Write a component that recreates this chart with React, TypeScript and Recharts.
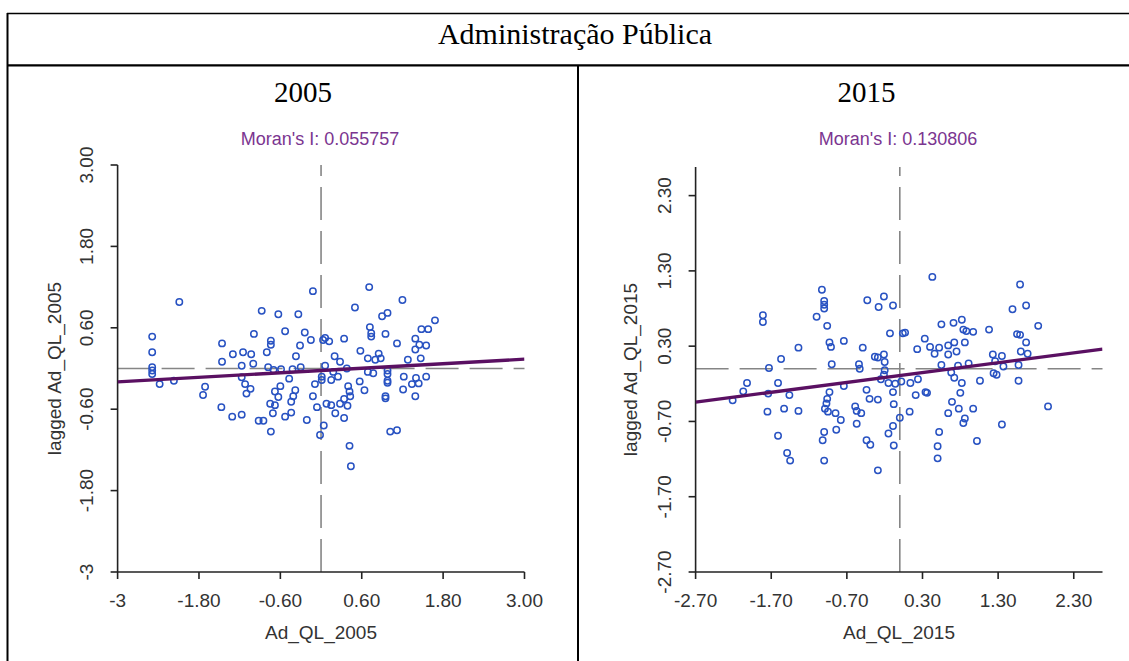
import { ScatterChart, Scatter, XAxis, YAxis, ReferenceLine } from "recharts";

const TITLE = "Administração Pública";
const YEARS = ["2005", "2015"];
const MORAN_I = [0.055757, 0.130806];
const FIT_INTERCEPT = [-0.03, -0.09];

const DOMAIN_2005: [number, number] = [-3, 3];
const TICKS_2005 = [-3, -1.8, -0.6, 0.6, 1.8, 3];
const TICK_LABELS_2005 = ["-3", "-1.80", "-0.60", "0.60", "1.80", "3.00"];

const DOMAIN_2015: [number, number] = [-2.7, 2.68];
const TICKS_2015 = [-2.7, -1.7, -0.7, 0.3, 1.3, 2.3];
const TICK_LABELS_2015 = ["-2.70", "-1.70", "-0.70", "0.30", "1.30", "2.30"];

// [Ad_QL, lagged Ad_QL]
const POINTS_2005: [number, number][] = [
  [-2.09, 0.98], [-0.12, 1.14], [-0.875, 0.85], [-0.63, 0.8], [-0.335, 0.8],
  [-2.49, 0.47], [-2.49, 0.24], [-2.49, 0.02], [-2.49, -0.03], [-2.49, -0.08],
  [-2.38, -0.23], [-2.17, -0.18], [-1.71, -0.27], [-1.74, -0.39], [-1.46, 0.37],
  [-1.46, 0.1], [-1.3, 0.21], [-1.15, 0.24], [-1.03, 0.21], [-0.99, 0.51],
  [-1.17, 0.04], [-1.0, 0.07], [-1.17, -0.13], [-1.12, -0.23], [-1.04, -0.3],
  [-1.1, -0.37], [-1.47, -0.57], [-1.31, -0.71], [-1.17, -0.68], [-0.92, -0.77],
  [-0.85, -0.77], [-0.74, -0.93], [-0.74, 0.41], [-0.74, 0.35], [-0.8, 0.24],
  [-0.53, 0.55], [-0.24, 0.53], [-0.15, 0.42], [-0.31, 0.34], [-0.37, 0.18],
  [-0.78, 0.02], [-0.7, -0.02], [-0.59, -0.01], [-0.42, -0.01], [-0.3, 0.02],
  [-0.47, -0.15], [-0.6, -0.26], [-0.68, -0.34], [-0.63, -0.42], [-0.75, -0.52],
  [-0.68, -0.54], [-0.71, -0.66], [-0.38, -0.32], [-0.41, -0.41], [-0.44, -0.49],
  [-0.44, -0.65], [-0.53, -0.71], [-0.21, -0.76], [-0.12, -0.41], [-0.09, -0.23],
  [-0.06, -0.57], [-0.015, -0.98], [0.01, -0.17], [0.03, 0.42],
  [0.71, 1.2], [1.2, 1.01], [0.5, 0.9], [0.9, 0.77], [0.98, 0.82],
  [1.68, 0.71], [1.48, 0.58], [1.58, 0.58], [0.72, 0.61], [0.74, 0.52],
  [0.74, 0.47], [0.95, 0.51], [0.34, 0.44], [0.06, 0.45], [0.12, 0.4],
  [1.12, 0.37], [1.39, 0.44], [1.45, 0.35], [1.39, 0.28], [1.55, 0.34],
  [0.58, 0.26], [0.85, 0.22], [0.69, 0.15], [0.8, 0.13], [0.88, 0.15],
  [1.28, 0.13], [1.47, 0.15], [0.2, 0.18], [0.28, 0.1], [0.06, 0.04],
  [0.38, 0.0], [0.18, -0.05], [0.01, -0.12], [0.15, -0.17], [0.25, -0.12],
  [0.69, -0.05], [0.77, -0.07], [0.98, -0.03], [0.98, -0.08], [0.98, -0.18],
  [0.98, -0.21], [0.57, -0.19], [0.64, -0.32], [0.4, -0.26], [0.42, -0.34],
  [0.43, -0.41], [0.34, -0.45], [0.28, -0.52], [0.39, -0.55], [0.08, -0.52],
  [0.15, -0.54], [0.21, -0.66], [0.34, -0.73], [0.95, -0.41], [0.95, -0.44],
  [1.22, -0.12], [1.21, -0.31], [1.4, -0.14], [1.44, -0.22], [1.34, -0.23],
  [1.55, -0.12], [1.39, -0.41], [1.02, -0.93], [1.12, -0.91], [0.42, -1.14],
  [0.44, -1.44], [0.04, -0.84],
];

const POINTS_2015: [number, number][] = [
  [-1.03, 1.05], [-1.0, 0.9], [-1.0, 0.85], [-1.0, 0.8], [-1.1, 0.69],
  [-0.96, 0.57], [-1.81, 0.71], [-1.81, 0.62], [-0.43, 0.91], [-0.28, 0.82],
  [-0.21, 0.96], [-0.09, 0.84], [-0.13, 0.47], [0.04, 0.47], [-1.34, 0.28],
  [-1.57, 0.13], [-1.73, 0.01], [-0.93, 0.35], [-0.91, 0.29], [-0.74, 0.37],
  [-0.49, 0.28], [-0.9, 0.06], [-0.54, 0.06], [-0.53, 0.0], [-0.33, 0.16],
  [-0.29, 0.15], [-0.21, 0.19], [-0.2, 0.09], [-0.2, -0.02], [-0.21, -0.08],
  [-0.25, -0.14], [-0.15, -0.19], [-0.06, -0.2], [0.02, -0.17], [-0.44, -0.28],
  [-0.4, -0.4], [-0.29, -0.41], [-0.08, -0.47], [0.0, -0.65], [-0.09, -0.76],
  [-0.15, -0.86], [-0.08, -1.02], [-2.02, -0.19], [-2.07, -0.3], [-2.21, -0.42],
  [-1.61, -0.19], [-1.74, -0.33], [-1.46, -0.35], [-0.74, -0.23], [-0.93, -0.31],
  [-0.96, -0.4], [-0.97, -0.46], [-0.99, -0.53], [-0.95, -0.57], [-0.85, -0.59],
  [-0.78, -0.68], [-0.84, -0.81], [-0.59, -0.5], [-0.57, -0.56], [-0.51, -0.59],
  [-0.57, -0.73], [-1.75, -0.57], [-1.53, -0.53], [-1.34, -0.56], [-1.61, -0.89],
  [-1.49, -1.12], [-1.45, -1.22], [-1.0, -1.22], [-1.0, -0.84], [-1.02, -0.95],
  [-0.44, -0.95], [-0.39, -1.01], [-0.29, -1.35], [-0.09, -0.31],
  [0.43, 1.22], [1.59, 1.12], [1.49, 0.79], [1.67, 0.84], [1.83, 0.57],
  [0.55, 0.59], [0.71, 0.61], [0.82, 0.65], [0.84, 0.52], [0.88, 0.5],
  [0.97, 0.49], [1.18, 0.52], [0.07, 0.48], [0.33, 0.4], [0.23, 0.26],
  [0.4, 0.29], [0.46, 0.2], [0.52, 0.28], [0.64, 0.31], [0.72, 0.35],
  [0.75, 0.23], [0.64, 0.19], [0.86, 0.35], [1.55, 0.46], [1.59, 0.45],
  [1.67, 0.35], [1.6, 0.23], [1.69, 0.2], [1.23, 0.19], [1.35, 0.17],
  [1.26, 0.1], [1.37, 0.03], [1.57, 0.05], [0.55, 0.05], [0.77, 0.04],
  [0.91, 0.07], [1.24, -0.06], [1.28, -0.08], [1.57, -0.16], [0.68, -0.05],
  [0.72, -0.12], [0.82, -0.19], [1.06, -0.16], [0.8, -0.32], [0.69, -0.44],
  [0.78, -0.53], [0.64, -0.59], [0.97, -0.53], [0.86, -0.66], [0.84, -0.72],
  [1.35, -0.74], [1.96, -0.5], [1.02, -0.96], [0.52, -0.84], [0.5, -1.03],
  [0.5, -1.19], [0.13, -0.57], [0.21, -0.35], [0.34, -0.31], [0.36, -0.32],
  [0.14, -0.19], [0.24, -0.14],
];

const SANS = "'Liberation Sans', Arial, sans-serif";
const SERIF = "'Liberation Serif', 'Times New Roman', serif";
const AXIS = "#222";
const POINT_BLUE = "#2852c2";
const FIT_PURPLE = "#5a1062";
const DASH_GREY = "#858585";

const PLOT_RIGHT = 524.5;
const AXIS_Y = 572;

function MoranPanel({
  left,
  width,
  top,
  points,
  domain,
  ticks,
  tickLabels,
  slope,
  intercept,
  year,
  yTitleX,
}: {
  left: number;
  width: number;
  top: number;
  points: [number, number][];
  domain: [number, number];
  ticks: number[];
  tickLabels: string[];
  slope: number;
  intercept: number;
  year: string;
  yTitleX: number;
}) {
  const data = points.map(([x, y]) => ({ x, y }));
  const fit = domain.map((x) => ({ x, y: intercept + slope * x }));
  const label = (v: number) => tickLabels[ticks.indexOf(v)] ?? String(v);
  const plotMid = (top + AXIS_Y) / 2;

  return (
    <div style={{ position: "absolute", left, top: 0 }}>
      <ScatterChart
        width={width}
        height={661}
        margin={{ top, right: width - PLOT_RIGHT, bottom: 0, left: 0 }}
      >
        <XAxis
          type="number"
          dataKey="x"
          domain={domain}
          ticks={ticks}
          interval={0}
          allowDataOverflow
          height={661 - AXIS_Y}
          tickSize={7}
          axisLine={{ stroke: AXIS, strokeWidth: 1.6 }}
          tickLine={{ stroke: AXIS, strokeWidth: 1.6 }}
          tick={(p: any) => (
            <text x={p.x} y={607} textAnchor="middle" fontSize={19} fontFamily={SANS} fill="#333">
              {label(p.payload.value)}
            </text>
          )}
          label={{
            content: () => (
              <text x={321} y={639} textAnchor="middle" fontSize={19} fontFamily={SANS} fill="#333">
                {`Ad_QL_${year}`}
              </text>
            ),
          }}
        />
        <YAxis
          type="number"
          dataKey="y"
          domain={domain}
          ticks={ticks}
          interval={0}
          allowDataOverflow
          width={117.6}
          tickSize={7}
          axisLine={{ stroke: AXIS, strokeWidth: 1.6 }}
          tickLine={{ stroke: AXIS, strokeWidth: 1.6 }}
          tick={(p: any) => (
            <text
              x={93}
              y={p.y}
              transform={`rotate(-90 93 ${p.y})`}
              textAnchor="middle"
              fontSize={19}
              fontFamily={SANS}
              fill="#333"
            >
              {label(p.payload.value)}
            </text>
          )}
          label={{
            content: () => (
              <text
                x={yTitleX}
                y={plotMid}
                transform={`rotate(-90 ${yTitleX} ${plotMid})`}
                textAnchor="middle"
                fontSize={19}
                fontFamily={SANS}
                fill="#333"
              >
                {`lagged Ad_QL_${year}`}
              </text>
            ),
          }}
        />
        <ReferenceLine x={0} stroke={DASH_GREY} strokeWidth={1.6} strokeDasharray="33 11" />
        <ReferenceLine y={0} stroke={DASH_GREY} strokeWidth={1.6} strokeDasharray="33 11" />
        <Scatter
          data={data}
          isAnimationActive={false}
          shape={(p: any) => (
            <circle cx={p.cx} cy={p.cy} r={3.2} fill="none" stroke={POINT_BLUE} strokeWidth={1.5} />
          )}
        />
        <Scatter
          data={fit}
          isAnimationActive={false}
          line={{ stroke: FIT_PURPLE, strokeWidth: 3.3 }}
          shape={() => <g />}
        />
      </ScatterChart>
    </div>
  );
}

export default function App() {
  return (
    <div
      style={{
        position: "absolute",
        left: 0,
        top: 0,
        width: 1129,
        height: 661,
        background: "#fff",
        overflow: "hidden",
      }}
    >
      <MoranPanel
        left={0}
        width={578}
        top={165}
        points={POINTS_2005}
        domain={DOMAIN_2005}
        ticks={TICKS_2005}
        tickLabels={TICK_LABELS_2005}
        slope={MORAN_I[0]}
        intercept={FIT_INTERCEPT[0]}
        year={YEARS[0]}
        yTitleX={61}
      />
      <MoranPanel
        left={578}
        width={551}
        top={167}
        points={POINTS_2015}
        domain={DOMAIN_2015}
        ticks={TICKS_2015}
        tickLabels={TICK_LABELS_2015}
        slope={MORAN_I[1]}
        intercept={FIT_INTERCEPT[1]}
        year={YEARS[1]}
        yTitleX={59}
      />
      <svg
        width={1129}
        height={661}
        style={{ position: "absolute", left: 0, top: 0, pointerEvents: "none" }}
      >
        <line x1={7} y1={13.5} x2={1129} y2={13.5} stroke="#000" strokeWidth={1.6} />
        <line x1={7.5} y1={13} x2={7.5} y2={661} stroke="#000" strokeWidth={2} />
        <line x1={7} y1={65.3} x2={1129} y2={65.3} stroke="#000" strokeWidth={2.2} />
        <line x1={578} y1={65} x2={578} y2={661} stroke="#000" strokeWidth={2} />
        <text x={575} y={44} textAnchor="middle" fontSize={30} fontFamily={SERIF} fill="#000">
          {TITLE}
        </text>
        <text x={303} y={101.5} textAnchor="middle" fontSize={29} fontFamily={SERIF} fill="#000">
          {YEARS[0]}
        </text>
        <text x={866.5} y={101.5} textAnchor="middle" fontSize={29} fontFamily={SERIF} fill="#000">
          {YEARS[1]}
        </text>
        <text x={320} y={145} textAnchor="middle" fontSize={18} fontFamily={SANS} fill="#7b3590">
          {`Moran's I: ${MORAN_I[0]}`}
        </text>
        <text x={578 + 320} y={145} textAnchor="middle" fontSize={18} fontFamily={SANS} fill="#7b3590">
          {`Moran's I: ${MORAN_I[1]}`}
        </text>
      </svg>
    </div>
  );
}
